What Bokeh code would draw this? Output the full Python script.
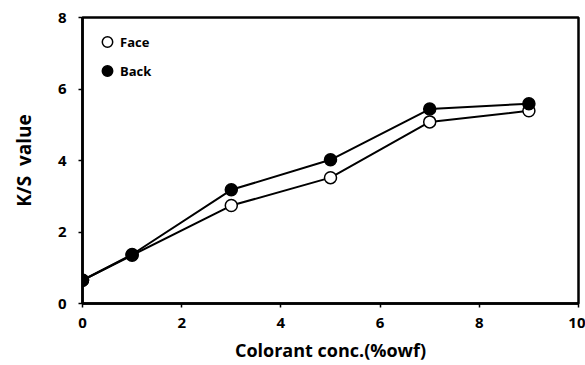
from bokeh.plotting import figure
from bokeh.models import ColumnDataSource, Legend, LegendItem, FixedTicker, Range1d
from bokeh.embed import file_html
from bokeh.resources import INLINE

conc = [0, 1, 3, 5, 7, 9]
face = [0.65, 1.35, 2.74, 3.52, 5.08, 5.39]
back = [0.65, 1.37, 3.18, 4.02, 5.44, 5.59]
x_ticks = [0, 2, 4, 6, 8, 10]
y_ticks = [0, 2, 4, 6, 8]

FONT = "Open Sans"

p = figure(width=585, height=365, output_backend="svg", toolbar_location=None,
           x_range=Range1d(0, 10), y_range=Range1d(0, 8),
           min_border_left=82, min_border_right=7, min_border_top=17, min_border_bottom=62)

src_f = ColumnDataSource(dict(x=conc, y=face))
src_b = ColumnDataSource(dict(x=conc, y=back))

p.line("x", "y", source=src_f, line_color="black", line_width=2)
rf = p.scatter("x", "y", source=src_f, size=12, fill_color="white", line_color="black", line_width=1.5)
p.line("x", "y", source=src_b, line_color="black", line_width=2)
rb = p.scatter("x", "y", source=src_b, size=12, fill_color="black", line_color="black", line_width=1.5)

p.grid.visible = False
p.outline_line_color = "black"
p.outline_line_width = 2.5
p.outline_line_alpha = 1

for ax in (p.xaxis[0], p.yaxis[0]):
    ax.axis_line_width = 2.5
    ax.axis_line_color = "black"
    ax.major_tick_in = 0
    ax.major_tick_out = 4
    ax.major_tick_line_width = 1.5
    ax.minor_tick_line_color = None
    ax.major_label_text_font = FONT
    ax.major_label_text_font_style = "bold"
    ax.major_label_text_font_size = "15px"
    ax.major_label_text_color = "black"
    ax.axis_label_text_font = FONT
    ax.axis_label_text_font_style = "bold"
    ax.axis_label_text_color = "black"

p.xaxis.axis_label_text_font_size = "18px"
p.yaxis.axis_label_text_font_size = "19px"
p.xaxis.ticker = FixedTicker(ticks=x_ticks)
p.yaxis.ticker = FixedTicker(ticks=y_ticks)
p.xaxis.axis_label = "Colorant conc.(%owf)"
p.yaxis.axis_label = "K/S\u00a0\u00a0value"
p.xaxis.major_label_standoff = 10
p.yaxis.major_label_standoff = 12
p.xaxis.axis_label_standoff = 7
p.yaxis.axis_label_standoff = 18

legend = Legend(items=[LegendItem(label="Face", renderers=[rf]),
                       LegendItem(label="Back", renderers=[rb])],
                location=(12, 218), orientation="vertical",
                background_fill_alpha=0, border_line_alpha=0,
                label_text_font=FONT, label_text_font_style="bold",
                label_text_font_size="13px", label_text_color="black",
                glyph_width=26, glyph_height=29, label_standoff=-4,
                spacing=0, padding=0, margin=0)
p.add_layout(legend, "center")

open("out.html", "w").write(file_html(p, INLINE))
